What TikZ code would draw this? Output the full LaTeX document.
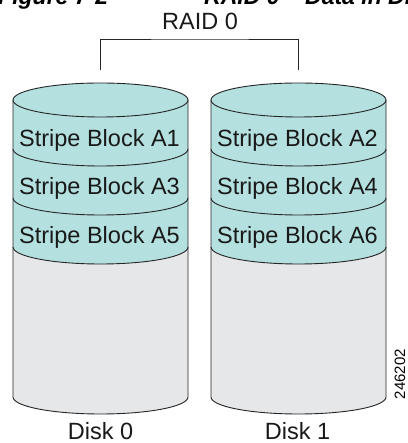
\documentclass[tikz,border=0pt]{standalone}
\usepackage{fontspec}
\setmainfont{Liberation Sans}
\begin{document}
\begin{tikzpicture}[x=1bp,y=1bp,
  outline/.style={draw=black!85,line width=0.9bp},
  lbl/.style={inner sep=0pt,anchor=base,text depth=0pt,font=\fontsize{23.5bp}{28bp}\selectfont,text=black!90},
  captext/.style={inner sep=0pt,anchor=base west,font=\fontsize{23bp}{28bp}\selectfont\bfseries\itshape},
  tealfill/.style={fill=diskteal},
  grayfill/.style={fill=diskgray}]
\definecolor{diskteal}{RGB}{180,224,224}
\definecolor{diskgray}{RGB}{230,231,232}
\useasboundingbox (0,0) rectangle (407,443);
\clip (0,0) rectangle (407,443);
% caption (cut off at the top)
\node[captext] (capA) at (-2,438) {Figure 7-2};
\node[captext] (capB) at (204,438) {RAID 0 -- Data in Disk};
% disks
\foreach \cx/\nm in {100.5/dzero,298.5/done}{
  \begin{scope}
  \def\rx{87.5}\def\ry{17}
  \fill[grayfill] (\cx-\rx,196) -- (\cx-\rx,46) arc[start angle=180,end angle=360,x radius=\rx,y radius=\ry] -- (\cx+\rx,196) arc[start angle=0,end angle=-180,x radius=\rx,y radius=\ry] -- cycle;
  \fill[tealfill] (\cx-\rx,343) -- (\cx-\rx,196) arc[start angle=180,end angle=360,x radius=\rx,y radius=\ry] -- (\cx+\rx,343) arc[start angle=0,end angle=180,x radius=\rx,y radius=\ry] -- cycle;
  \draw[outline] (\cx,343) ellipse[x radius=\rx,y radius=\ry];
  \foreach \yy in {294,245,196}
    \draw[outline] (\cx-\rx,\yy) arc[start angle=180,end angle=360,x radius=\rx,y radius=\ry];
  \draw[outline] (\cx-\rx,343) -- (\cx-\rx,46) arc[start angle=180,end angle=360,x radius=\rx,y radius=\ry] -- (\cx+\rx,343);
  \end{scope}
}
\coordinate (dzerotop) at (100.5,373);
\coordinate (donetop) at (298.5,373);
% stripe labels
\node[lbl] (a1) at (99.5,296) {Stripe Block A1};
\node[lbl] (a3) at (99.5,248) {Stripe Block A3};
\node[lbl] (a5) at (99.5,199) {Stripe Block A5};
\node[lbl] (a2) at (297.5,296) {Stripe Block A2};
\node[lbl] (a4) at (297.5,248) {Stripe Block A4};
\node[lbl] (a6) at (297.5,199) {Stripe Block A6};
% disk labels
\node[lbl] (disk0) at (100.5,3.5) {Disk 0};
\node[lbl] (disk1) at (297.5,3.5) {Disk 1};
% RAID label and bracket
\node[lbl] (raid) at (200,413) {RAID 0};
\coordinate (bar) at (200,404);
\draw[outline,line width=0.7bp] (dzerotop) |- (bar) -| (donetop);
% figure number
\node[inner sep=0pt,rotate=90,font=\fontsize{15bp}{18bp}\selectfont] (fignum) at (400,69) {246202};
\end{tikzpicture}
\end{document}
